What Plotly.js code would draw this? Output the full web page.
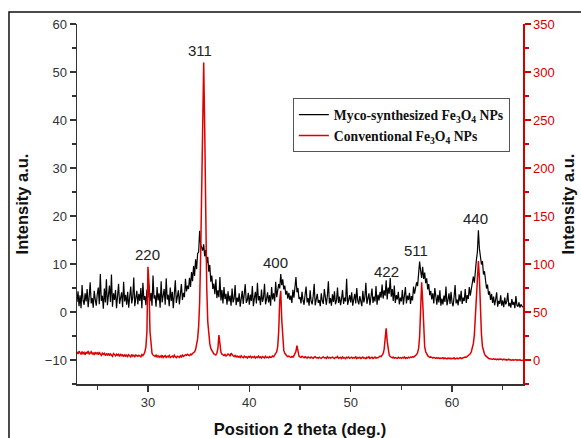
<!DOCTYPE html>
<html>
<head>
<meta charset="utf-8">
<script src="https://cdn.plot.ly/plotly-3.0.1.min.js"></script>
<style>html,body{margin:0;padding:0;background:#fff}#chart{width:581px;height:438px}</style>
</head>
<body>
<div id="chart"></div>
<script>
// 2-theta sampling grid
const thetaStart = 23.0;
const thetaStep = 0.1;

// Myco-synthesized Fe3O4 NPs (left axis), 23.0 .. 67.0 step 0.1
const mycoIntensity = [
 2.1,4.3,1.2,3.5,0.8,5.6,2.4,1.5,3.9,2.2,
 4.8,1.0,3.1,6.2,1.8,2.9,0.9,4.4,2.6,1.3,
 3.7,5.1,1.6,7.9,2.3,3.4,0.7,4.9,2.0,6.8,
 1.4,3.2,5.5,2.1,7.8,1.1,3.9,2.5,4.6,0.8,
 3.3,5.9,1.7,2.8,4.1,1.0,6.3,2.2,3.6,1.5,
 4.2,0.9,2.7,5.3,1.8,3.1,7.2,1.2,2.9,4.4,
 1.6,3.8,2.3,5.0,0.8,6.1,2.5,3.3,1.4,4.7,
 3.0,5.6,2.2,4.0,1.3,7.6,2.8,3.5,1.1,5.2,
 2.4,3.9,0.9,6.4,2.0,3.2,4.8,1.5,7.0,2.6,
 3.6,1.2,5.1,2.3,4.2,0.8,3.3,6.6,1.9,2.9,
 4.5,1.6,3.4,5.8,2.5,4.0,3.1,6.9,4.3,5.5,
 4.8,7.1,5.2,8.3,6.4,9.6,7.5,11.0,8.9,12.2,
 12.5,16.9,14.0,13.5,12.8,14.1,11.6,12.9,10.2,11.5,
 8.4,9.8,6.3,7.6,4.8,5.9,3.7,6.8,2.9,4.5,
 3.1,7.3,2.4,4.6,1.8,5.2,2.7,3.8,1.5,4.3,
 2.2,3.4,1.3,4.9,2.0,2.8,5.6,1.4,3.0,2.1,
 3.9,1.1,2.6,4.4,1.7,3.2,5.8,1.9,2.5,4.0,
 1.5,3.6,2.3,5.4,1.2,2.9,4.2,1.8,6.1,2.4,
 3.3,1.4,4.7,2.1,3.0,5.9,1.6,2.7,4.1,2.0,
 3.5,1.3,5.2,2.6,3.9,2.2,6.3,3.1,4.5,5.8,
 4.9,7.9,5.6,6.8,4.7,5.5,3.6,4.4,2.8,4.0,
 2.5,3.4,1.9,4.6,3.0,5.2,7.3,4.1,5.0,2.7,
 3.1,1.8,4.2,2.4,1.5,3.6,5.3,2.0,2.9,1.3,
 4.5,2.2,1.6,3.3,5.9,1.4,2.7,3.8,1.9,2.5,
 1.2,3.9,2.3,1.7,4.8,2.6,1.5,3.4,6.4,1.8,
 2.9,1.3,3.7,2.1,4.3,1.6,2.4,5.1,1.9,3.2,
 1.4,2.8,4.6,1.7,3.0,2.2,6.9,1.5,2.7,3.5,
 2.0,4.1,1.3,2.6,3.8,1.8,5.0,2.3,1.6,3.3,
 2.5,1.2,4.4,2.0,3.1,6.1,1.7,2.8,3.9,1.4,
 2.7,4.9,1.9,3.2,2.2,5.4,1.5,3.6,2.4,4.2,
 3.0,5.7,2.8,4.5,3.4,6.6,2.6,5.1,3.8,7.1,
 3.2,4.8,2.3,5.5,1.9,3.5,2.6,4.2,1.6,3.0,
 2.2,4.6,1.5,2.9,5.2,1.8,3.4,2.5,4.0,1.7,
 3.3,2.4,5.3,3.8,4.9,6.2,5.4,7.8,10.5,8.6,
 7.1,9.4,6.9,8.2,6.0,7.0,4.7,5.8,3.5,4.4,
 2.6,3.9,1.8,5.0,2.3,1.5,3.6,2.0,4.5,1.3,
 2.8,1.6,3.4,2.1,5.3,1.4,2.5,3.9,1.7,4.2,
 2.0,1.2,3.1,5.6,1.8,2.6,1.4,3.7,2.2,4.4,
 1.7,3.0,2.3,4.8,1.9,3.5,2.7,5.2,3.4,4.6,
 5.3,7.4,6.1,9.2,10.8,12.5,17.0,13.2,11.4,9.9,
 10.6,7.8,8.5,6.2,4.9,5.7,3.6,4.3,2.5,3.8,
 1.9,3.2,1.4,2.6,4.1,1.1,2.3,1.7,3.5,1.3,
 2.4,1.0,3.0,1.6,2.2,4.0,1.2,1.9,0.9,2.7,
 1.5,2.1,0.8,3.3,1.4,1.1,2.0,0.9,1.6,1.2,
 1.0
];

// Conventional Fe3O4 NPs (right axis), 23.0 .. 67.0 step 0.1
const conventionalIntensity = [
 8.5,6.2,9.1,7.0,5.8,8.8,6.5,7.9,5.5,8.2,
 6.8,9.4,5.9,7.3,8.6,6.0,7.7,5.2,8.0,6.6,
 7.4,5.6,8.3,6.1,4.9,7.2,5.8,6.9,4.7,6.4,
 5.3,7.0,4.6,6.2,5.5,3.9,6.7,5.0,4.4,6.0,
 4.8,5.9,3.7,6.3,4.5,5.4,3.4,5.7,4.1,5.1,
 3.6,5.5,4.3,3.2,5.8,4.0,4.9,3.5,5.2,4.2,
 3.9,5.0,4.4,3.3,5.6,4.6,6.1,8.5,14.0,30.0,
 97.0,80.0,30.0,12.0,7.0,5.2,4.1,3.6,5.1,3.2,
 4.5,2.8,4.1,3.0,5.0,2.5,3.8,4.6,2.7,3.9,
 3.1,4.7,2.6,3.5,4.2,2.9,4.9,3.3,2.4,4.0,
 3.6,2.7,4.4,3.2,5.1,3.8,4.6,5.4,4.9,6.0,
 5.2,4.6,6.0,5.5,6.8,7.4,8.6,10.8,15.0,22.0,
 35.0,60.0,110.0,190.0,285.0,310.0,240.0,140.0,75.0,40.0,
 25.0,17.0,12.0,9.5,7.8,6.4,5.9,5.2,7.0,12.0,
 26.0,16.0,8.0,6.0,5.3,4.6,5.8,4.2,4.9,6.3,
 5.5,4.0,7.0,5.2,4.4,3.6,4.8,3.3,4.1,2.9,
 3.8,2.6,4.3,3.1,2.4,3.9,2.8,3.5,2.2,3.7,
 2.9,4.0,2.3,3.4,2.7,3.8,2.1,3.2,2.6,4.1,
 2.4,3.3,2.0,3.6,2.8,2.2,3.9,2.5,3.0,2.3,
 3.5,2.7,3.1,4.2,3.4,4.8,6.0,8.5,14.0,30.0,
 62.0,72.0,42.0,18.0,10.0,7.0,5.4,4.3,3.6,4.0,
 3.2,2.8,3.7,3.0,4.4,6.0,9.0,15.0,7.0,4.1,
 3.3,2.6,3.9,2.9,2.3,3.4,2.7,2.1,3.2,2.5,
 2.0,3.1,2.4,1.8,2.9,3.5,2.2,2.6,1.9,3.0,
 2.3,1.7,2.8,3.3,2.1,2.5,1.6,3.4,2.0,2.7,
 1.9,2.6,3.0,2.2,1.5,2.8,2.4,3.6,1.8,2.3,
 2.7,1.6,3.2,2.0,2.5,1.4,2.9,2.2,3.1,1.7,
 2.4,3.0,1.8,2.6,2.1,3.3,1.5,2.7,2.0,2.9,
 1.6,2.5,3.1,1.9,2.3,1.4,2.8,2.2,3.4,1.7,
 2.1,2.9,1.5,2.4,3.0,1.8,2.6,2.3,3.2,4.0,
 3.5,4.5,6.5,11.0,22.0,33.0,20.0,9.0,5.2,3.6,
 2.8,2.2,3.0,1.9,2.6,2.4,1.7,2.9,2.0,2.5,
 1.8,2.7,2.1,3.2,1.6,2.4,2.0,2.9,2.3,3.0,
 2.6,3.4,2.9,3.8,4.5,5.6,7.5,12.0,24.0,50.0,
 81.0,62.0,30.0,14.0,8.5,6.2,4.5,3.6,2.8,3.2,
 2.4,1.9,2.7,2.2,1.6,2.5,1.8,2.3,1.4,2.0,
 1.7,2.4,1.3,2.1,1.6,1.1,2.2,1.5,1.9,1.2,
 1.8,1.4,2.3,1.0,1.6,2.0,1.2,1.7,2.4,1.5,
 1.9,2.6,2.2,3.0,2.8,3.5,4.2,5.0,6.4,8.6,
 12.0,17.0,26.0,45.0,75.0,96.0,103.0,85.0,50.0,27.0,
 14.0,9.0,6.2,4.5,3.2,2.4,1.8,1.2,0.9,1.4,
 0.8,1.3,0.6,1.0,0.4,0.9,0.3,1.1,0.5,0.7,
 0.2,0.9,0.4,0.6,-0.1,0.5,0.8,0.0,0.3,-0.3,
 0.4,-0.2,0.1,0.5,-0.4,0.2,-0.1,0.3,-0.5,0.0,
 -0.3
];

// Peak (hkl) labels
const peakLabels = ["220", "311", "400", "422", "511", "440"];
const peakLabelX = [30.0, 35.1, 42.6, 53.55, 56.4, 62.35];
const peakLabelY = [11.9, 54.4, 10.4, 8.4, 12.9, 19.5];

const seriesNames = [
  "Myco-synthesized Fe<sub>3</sub>O<sub>4</sub> NPs",
  "Conventional Fe<sub>3</sub>O<sub>4</sub> NPs"
];

const theta = mycoIntensity.map((_, i) => +(thetaStart + i * thetaStep).toFixed(2));

const traces = [
  {x: theta, y: mycoIntensity, type: "scatter", mode: "lines", name: seriesNames[0],
   line: {color: "#000000", width: 1.2}, xaxis: "x", yaxis: "y"},
  {x: theta, y: conventionalIntensity, type: "scatter", mode: "lines", name: seriesNames[1],
   line: {color: "#e00000", width: 1.5}, xaxis: "x", yaxis: "y2"}
];

const axisFont = {family: "Arial, Liberation Sans, sans-serif", size: 13, color: "#333"};
const titleFont = {family: "Arial, Liberation Sans, sans-serif", size: 16.5, color: "#111", weight: "bold"};

const layout = {
  width: 581, height: 438,
  margin: {l: 77, r: 58, t: 24, b: 54, pad: 0},
  paper_bgcolor: "#fff", plot_bgcolor: "#fff",
  showlegend: true,
  legend: {
    x: 0.484, y: 0.794, xanchor: "left", yanchor: "top",
    bgcolor: "rgba(255,255,255,1)", bordercolor: "#555", borderwidth: 1,
    font: {family: "Liberation Serif, Times New Roman, serif", size: 13.7, color: "#111", weight: "bold"},
    itemwidth: 30
  },
  xaxis: {
    range: [23, 67], showgrid: false, zeroline: false,
    showline: true, linecolor: "#333", linewidth: 1.5,
    ticks: "outside", ticklen: 6, tickwidth: 1.5, tickcolor: "#333",
    dtick: 10, tick0: 0, tickfont: axisFont,
    minor: {ticks: "outside", dtick: 5, ticklen: 4, tickwidth: 1.5, tickcolor: "#333"},
    title: {text: "Position 2 theta (deg.)", font: titleFont, standoff: 15}
  },
  xaxis2: {
    range: [23, 67], overlaying: "x", side: "top", anchor: "y",
    showgrid: false, zeroline: false, showline: true, linecolor: "#333", linewidth: 1.5,
    ticks: "inside", ticklen: 5, tickwidth: 1.5, tickcolor: "#333",
    dtick: 10, tick0: 0, showticklabels: false,
    minor: {ticks: "inside", dtick: 5, ticklen: 4, tickwidth: 1.5, tickcolor: "#333"}
  },
  yaxis: {
    range: [-15, 60], showgrid: false, zeroline: false,
    showline: true, linecolor: "#333", linewidth: 1.5,
    ticks: "outside", ticklen: 6, tickwidth: 1.5, tickcolor: "#333",
    dtick: 10, tick0: 0, tickfont: axisFont,
    minor: {ticks: "outside", dtick: 5, ticklen: 4, tickwidth: 1.5, tickcolor: "#333"},
    title: {text: "Intensity a.u.", font: titleFont, standoff: 12}
  },
  yaxis2: {
    range: [-25, 350], overlaying: "y", side: "right", anchor: "x",
    showgrid: false, zeroline: false,
    showline: true, linecolor: "#d40000", linewidth: 1.5,
    ticks: "outside", ticklen: 6, tickwidth: 1.5, tickcolor: "#d40000",
    dtick: 50, tick0: 0,
    tickfont: {family: "Arial, Liberation Sans, sans-serif", size: 13, color: "#d40000"},
    minor: {ticks: "outside", dtick: 25, ticklen: 4, tickwidth: 1.5, tickcolor: "#d40000"},
    title: {text: "Intensity a.u.", font: titleFont, standoff: 8}
  },
  annotations: peakLabels.map((t, i) => ({
    text: t, x: peakLabelX[i], y: peakLabelY[i], xref: "x", yref: "y",
    showarrow: false, font: {family: "Arial, Liberation Sans, sans-serif", size: 15, color: "#222"}
  })),
  shapes: [{
    type: "rect", xref: "paper", yref: "paper",
    x0: -0.1525, x1: 1.15, y0: -0.18, y1: 1.0333,
    line: {color: "#111", width: 1.5}, fillcolor: "rgba(0,0,0,0)", layer: "below"
  }]
};

Plotly.newPlot("chart", traces, layout, {displayModeBar: false, staticPlot: true});
</script>
</body>
</html>
